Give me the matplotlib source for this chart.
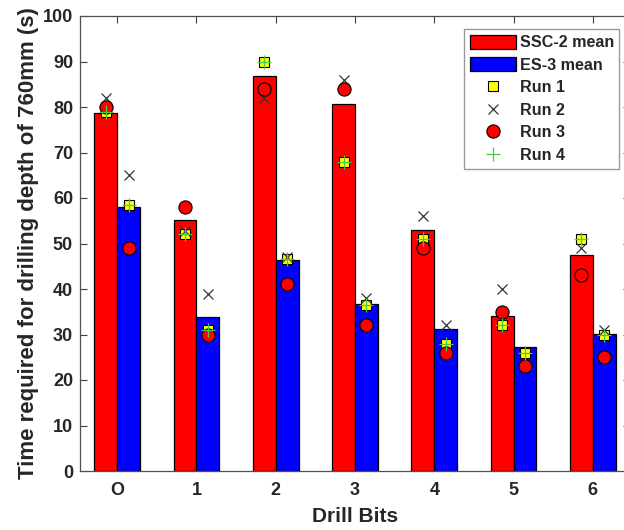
import matplotlib
matplotlib.use("Agg")
import matplotlib.pyplot as plt
import numpy as np

plt.rcParams['font.family'] = ['Liberation Sans', 'DejaVu Sans']
plt.rcParams['font.weight'] = 'bold'

categories = ['O', '1', '2', '3', '4', '5', '6']
ssc2_mean = [78.7, 55.1, 86.8, 80.7, 52.9, 34.1, 47.4]
es3_mean = [58.0, 33.9, 46.4, 36.6, 31.1, 27.2, 30.1]

ssc2_run1 = [79, 52, 90, 68, 51, 32, 51]
ssc2_run2 = [82, 52.8, 82, 86, 56, 40, 49]
ssc2_run3 = [80, 58, 84, 84, 49, 35, 43]
ssc2_run4 = [79, 52, 90, 68, 51, 32, 51]

es3_run1 = [58.5, 31, 46.5, 36.5, 28, 26, 30]
es3_run2 = [65, 39, 47, 38, 32, 23, 31]
es3_run3 = [49, 30, 41, 32, 26, 23, 25]
es3_run4 = [58.5, 31, 46.5, 36.5, 28, 26, 30]

text_c = '#262626'
fig = plt.figure(figsize=(6.24, 5.30), dpi=100)
ax = fig.add_axes([80/624, 1-471/530, 550/624, 455/530])

x = np.arange(len(categories))
w = 0.29
off = w/2
b1 = ax.bar(x - off, ssc2_mean, w, color='#FF0000', edgecolor='black', linewidth=0.9, label='SSC-2 mean', zorder=2)
b2 = ax.bar(x + off, es3_mean, w, color='#0000FF', edgecolor='black', linewidth=0.9, label='ES-3 mean', zorder=2)

def runs(xp, r1, r2, r3, r4):
    h1, = ax.plot(xp, r1, ls='none', marker='s', ms=7.5, mfc='#FFFF00', mec='black', mew=0.8,
                  label='Run 1', zorder=3)
    h2, = ax.plot(xp, r2, ls='none', marker='x', ms=6.5, mec='#333333', mew=0.9,
                  label='Run 2', zorder=4)
    h3, = ax.plot(xp, r3, ls='none', marker='o', ms=9.5, mfc='#FF0000', mec='black', mew=0.8,
                  label='Run 3', zorder=5)
    h4, = ax.plot(xp, r4, ls='none', marker='+', ms=9.5, mec='#44CC44', mew=0.9,
                  label='Run 4', zorder=6)
    return [h1, h2, h3, h4]

hr = runs(x - off, ssc2_run1, ssc2_run2, ssc2_run3, ssc2_run4)
runs(x + off, es3_run1, es3_run2, es3_run3, es3_run4)

ax.set_xlim(-0.47, 6.47)
ax.set_ylim(0, 100)
ax.set_xticks(x)
ax.set_xticklabels(categories)
ax.set_yticks(np.arange(0, 101, 10))
ax.tick_params(direction='in', length=5, width=0.8, colors='#404040', labelcolor=text_c,
               labelsize=13, top=True, right=True, pad=5)
ax.tick_params(axis='x', pad=8)
for s in ax.spines.values():
    s.set_color('#505050')
    s.set_linewidth(0.9)
for lab in ax.get_xticklabels() + ax.get_yticklabels():
    lab.set_fontweight('bold')

ax.set_xlabel('Drill Bits', fontsize=15, fontweight='bold', color=text_c, labelpad=6)
ax.set_ylabel('Time required for drilling depth of 760mm (s)', fontsize=16, fontweight='bold',
              color=text_c, labelpad=3)

leg = ax.legend([b1, b2] + hr, ['SSC-2 mean', 'ES-3 mean', 'Run 1', 'Run 2', 'Run 3', 'Run 4'],
                loc='upper left', bbox_to_anchor=(464/624, 1-29/530), bbox_transform=fig.transFigure,
                fontsize=11.6, frameon=True, fancybox=False, edgecolor='#808080',
                handlelength=2.85, handleheight=0.95, labelspacing=0.44, borderpad=0.35,
                handletextpad=0.25, borderaxespad=0)
leg.get_frame().set_linewidth(1.0)
for t in leg.get_texts():
    t.set_fontweight('bold')
    t.set_color(text_c)

fig.savefig('out.png', dpi=100)
